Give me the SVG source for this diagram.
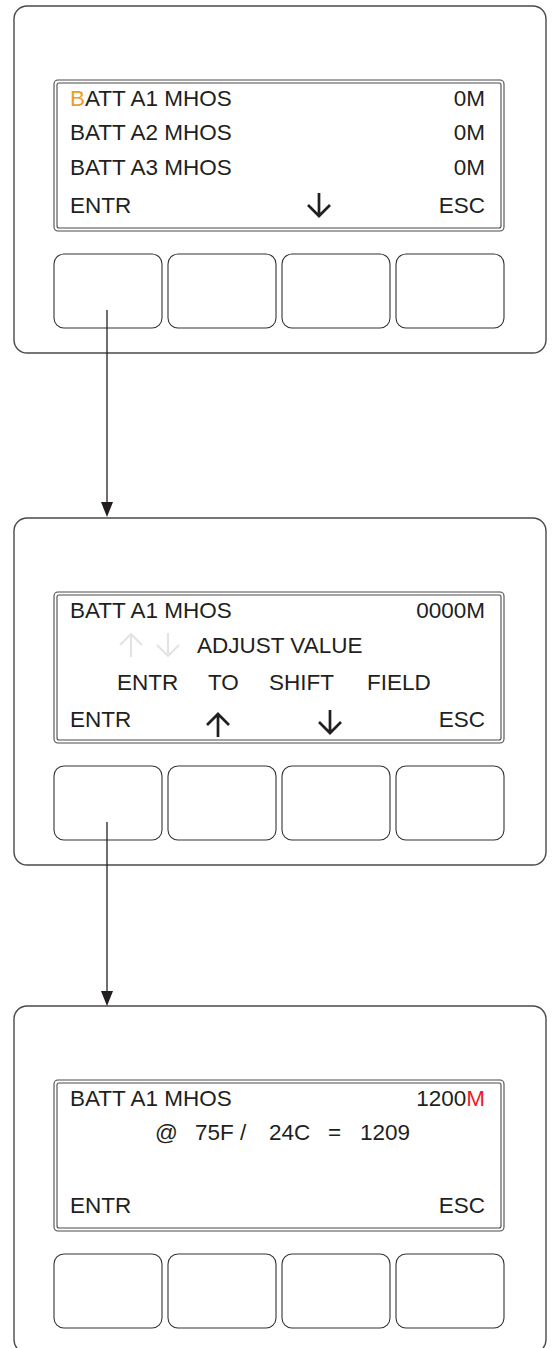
<svg xmlns="http://www.w3.org/2000/svg" width="554" height="1348" viewBox="0 0 554 1348">
<style>
.panel{fill:#fff;stroke:#4a4a4a;stroke-width:1.4}
.scr{fill:none;stroke:#4a4a4a;stroke-width:1.1}
.btn{fill:#fff;stroke:#333;stroke-width:1.1}
.t{font-family:"Liberation Sans",Arial,sans-serif;font-size:22.5px;fill:#231f20}
.e{text-anchor:end}
.arr{fill:none;stroke:#231f20;stroke-width:2.7;stroke-linecap:butt}
.ghost{fill:none;stroke:#e3e3e3;stroke-width:2.2}
.conn{stroke:#231f20;stroke-width:1.3;fill:none}
</style>
<defs>
<path id="down" d="M0,-12 V11 M-11,0 L0,11 L11,0"/>
<path id="up" d="M0,12 V-11 M-11,0 L0,-11 L11,0"/>
<g id="frame">
<rect class="panel" x="14" y="6" width="532" height="347" rx="13"/>
<rect class="scr" x="54" y="80" width="450" height="151" rx="4"/>
<rect class="scr" x="57" y="83" width="444" height="145" rx="2"/>
<rect class="btn" x="54" y="254" width="108" height="74" rx="10"/>
<rect class="btn" x="168" y="254" width="108" height="74" rx="10"/>
<rect class="btn" x="282" y="254" width="108" height="74" rx="10"/>
<rect class="btn" x="396" y="254" width="108" height="74" rx="10"/>
</g>
</defs>
<g id="panel1">
<use href="#frame"/>
<text class="t" x="70" y="106"><tspan fill="#f39a1e">B</tspan>ATT A1 MHOS</text>
<text class="t e" x="485" y="106">0M</text>
<text class="t" x="70" y="140">BATT A2 MHOS</text>
<text class="t e" x="485" y="140">0M</text>
<text class="t" x="70" y="174.5">BATT A3 MHOS</text>
<text class="t e" x="485" y="174.5">0M</text>
<text class="t" x="70" y="213">ENTR</text>
<text class="t e" x="485" y="213">ESC</text>
<use href="#down" class="arr" x="319" y="205"/>
</g>
<g id="panel2" transform="translate(0,512)">
<use href="#frame"/>
<text class="t" x="70" y="106">BATT A1 MHOS</text>
<text class="t e" x="485" y="106">0000M</text>
<use href="#up" class="ghost" x="131" y="133"/>
<use href="#down" class="ghost" x="168" y="133"/>
<text class="t" x="197" y="141">ADJUST VALUE</text>
<text class="t" y="177.5"><tspan x="117">ENTR</tspan><tspan x="208">TO</tspan><tspan x="269">SHIFT</tspan><tspan x="367">FIELD</tspan></text>
<text class="t" x="70" y="215">ENTR</text>
<text class="t e" x="485" y="215">ESC</text>
<use href="#up" class="arr" x="218" y="213"/>
<use href="#down" class="arr" x="330" y="210"/>
</g>
<g id="panel3" transform="translate(0,1000)">
<use href="#frame"/>
<text class="t" x="70" y="106">BATT A1 MHOS</text>
<text class="t e" x="485" y="106">1200<tspan fill="#ed1c24">M</tspan></text>
<text class="t" y="140"><tspan x="155">@</tspan><tspan x="195">75F</tspan><tspan x="240">/</tspan><tspan x="269">24C</tspan><tspan x="328">=</tspan><tspan x="360">1209</tspan></text>
<text class="t" x="70" y="213">ENTR</text>
<text class="t e" x="485" y="213">ESC</text>
</g>
<g id="connectors">
<line class="conn" x1="107" y1="310" x2="107" y2="503"/>
<polygon points="101,502 113,502 107,517" fill="#231f20"/>
<line class="conn" x1="107" y1="822" x2="107" y2="992"/>
<polygon points="101,991 113,991 107,1006" fill="#231f20"/>
</g>
</svg>
